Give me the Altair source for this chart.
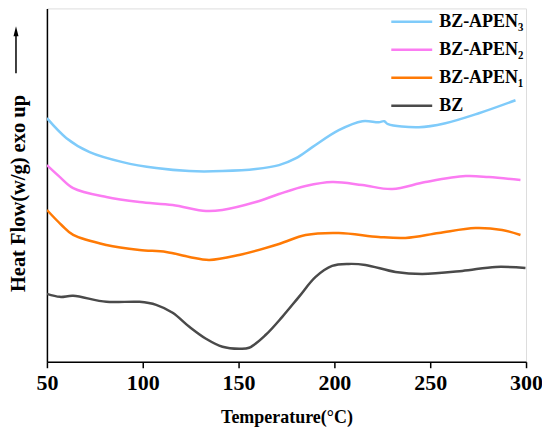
import altair as alt
import pandas as pd

# Temperatures (°C) and heat flow (arbitrary units, stacked offsets)
t_apen3 = [50, 60.2, 72.3, 89.5, 107, 124.3, 141.5, 159, 171.1, 180, 188.5, 202.3, 214.6, 223.1, 226.0, 228.0, 244.1, 257.9, 275.4, 294.5]
v_apen3 = [2.44, 2.24, 2.10, 2.00, 1.94, 1.91, 1.91, 1.93, 1.97, 2.04, 2.15, 2.32, 2.41, 2.40, 2.41, 2.38, 2.35, 2.39, 2.49, 2.62]

t_apen2 = [50, 56.8, 63.7, 81, 98.3, 115.6, 133, 141.5, 159, 171.1, 185, 198.9, 214.6, 230.2, 247.5, 268.5, 280.6, 297.1]
v_apen2 = [1.97, 1.85, 1.74, 1.65, 1.60, 1.57, 1.51, 1.52, 1.60, 1.68, 1.76, 1.80, 1.77, 1.73, 1.80, 1.86, 1.85, 1.82]

t_apen1 = [50, 57.6, 63.7, 81, 98.3, 112.2, 124.3, 134.7, 150.3, 171.1, 185, 202.3, 223.1, 237.1, 254.5, 273.6, 287.5, 297.1]
v_apen1 = [1.52, 1.37, 1.27, 1.17, 1.12, 1.10, 1.05, 1.02, 1.07, 1.18, 1.27, 1.29, 1.25, 1.24, 1.29, 1.34, 1.32, 1.27]

t_bz = [50, 56.8, 63.7, 81, 98.3, 107, 115.6, 124.3, 133, 141.6, 150.3, 155.5, 164.2, 172.8, 181.5, 190.2, 198.8, 207.5, 216.2, 231.9, 245.8, 266.7, 284.2, 299.7]
v_bz = [0.68, 0.65, 0.66, 0.60, 0.60, 0.57, 0.49, 0.35, 0.23, 0.15, 0.13, 0.14, 0.27, 0.45, 0.65, 0.85, 0.96, 0.98, 0.97, 0.90, 0.88, 0.91, 0.95, 0.94]

names = ["BZ-APEN\u2083", "BZ-APEN\u2082", "BZ-APEN\u2081", "BZ"]
colors = ["#7fcbfa", "#fb7cf2", "#ff7a05", "#4a4a4a"]

rows = []
for name, ts, vs in zip(names, [t_apen3, t_apen2, t_apen1, t_bz], [v_apen3, v_apen2, v_apen1, v_bz]):
    for i, (t, v) in enumerate(zip(ts, vs)):
        rows.append({"series": name, "T": t, "hf": v, "order": i})
df = pd.DataFrame(rows)

FONT = "Liberation Serif"

lines = alt.Chart(df).mark_line(strokeWidth=2.5, interpolate="catmull-rom", clip=True).encode(
    x=alt.X("T:Q", scale=alt.Scale(domain=[50, 300], nice=False, zero=False),
            axis=alt.Axis(title="Temperature(\u00b0C)", values=[50, 100, 150, 200, 250, 300],
                          grid=False, tickSize=6, tickWidth=1.5, tickColor="black",
                          domainColor="black", domainWidth=1.5, labelFlush=False,
                          labelFont=FONT, labelFontSize=22, labelFontWeight="bold", labelColor="black",
                          labelPadding=5,
                          titleFont=FONT, titleFontSize=18, titleFontWeight="bold", titleColor="black",
                          titleY=61, titleBaseline="alphabetic")),
    y=alt.Y("hf:Q", scale=alt.Scale(domain=[0, 3.54], nice=False, zero=False),
            axis=alt.Axis(title="Heat Flow(w/g) exo up", grid=False, ticks=False, labels=False,
                          domainColor="black", domainWidth=1.5,
                          titleFont=FONT, titleFontSize=20.5, titleFontWeight="bold", titleColor="black",
                          titleX=-22, titleY=185, titleAngle=270, titleAlign="center",
                          titleBaseline="alphabetic")),
    color=alt.Color("series:N", scale=alt.Scale(domain=names, range=colors),
                    legend=alt.Legend(title=None, orient="none", legendX=354, legendY=2,
                                      symbolType="M-2,0L2,0", symbolSize=420, symbolStrokeWidth=2.5,
                                      labelFont=FONT, labelFontSize=18, labelFontWeight="bold",
                                      labelColor="black", rowPadding=7, labelOffset=16,
                                      padding=0)),
    detail="series:N",
    order="order:Q",
)

one = pd.DataFrame({"a": [0]})
arrow_shaft = alt.Chart(one).mark_rule(color="black", strokeWidth=1.5).encode(
    x=alt.value(-31), y=alt.value(24), y2=alt.value(65)
)
arrow_head = alt.Chart(one).mark_point(shape="M0,-1L0.5,1L-0.5,1Z", filled=True, color="black",
                                       size=100, opacity=1).encode(
    x=alt.value(-31), y=alt.value(23)
)

chart = alt.layer(lines, arrow_shaft, arrow_head).properties(
    width=480, height=354,
    padding={"left": 39, "top": 0, "right": 16, "bottom": 66},
    autosize=alt.AutoSizeParams(type="none"),
).configure_view(stroke="black", strokeWidth=1.5).configure(background="white")

chart.save("out.html", embed_options={"renderer": "svg", "actions": False})
